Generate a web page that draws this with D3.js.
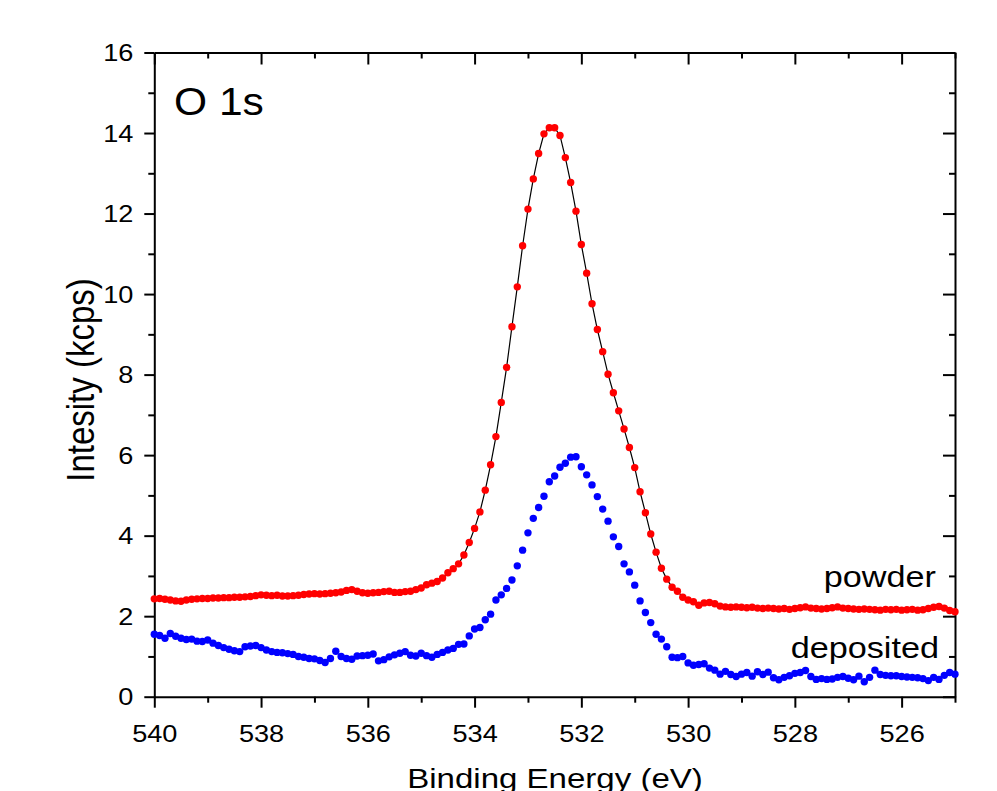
<!DOCTYPE html>
<html>
<head>
<meta charset="utf-8">
<script src="https://cdn.jsdelivr.net/npm/d3@7"></script>
<style>
  body { margin: 0; background: #fff; }
  svg text { font-family: "Liberation Sans", Arial, sans-serif; fill: #000; }
</style>
</head>
<body>
<svg id="chart" width="997" height="791"></svg>
<script>
// energia de enlace: de 540 a 525 eV cada 0.1
var energyStart = 540
var energyStep = 0.1

// powder (rojo), kcps
var powder = [
  2.43, 2.44, 2.42, 2.40, 2.38, 2.37, 2.40, 2.42, 2.43, 2.44,
  2.44, 2.45, 2.45, 2.46, 2.46, 2.47, 2.47, 2.48, 2.49, 2.51,
  2.53, 2.52, 2.51, 2.52, 2.50, 2.50, 2.51, 2.52, 2.54, 2.55,
  2.56, 2.55, 2.56, 2.57, 2.58, 2.60, 2.64, 2.66, 2.62, 2.58,
  2.57, 2.58, 2.59, 2.61, 2.62, 2.59, 2.59, 2.61, 2.62, 2.66,
  2.70, 2.78, 2.82, 2.86, 2.95, 3.08, 3.18, 3.30, 3.52, 3.83,
  4.18, 4.59, 5.13, 5.76, 6.46, 7.31, 8.18, 9.19, 10.18, 11.20,
  12.11, 12.86, 13.49, 13.98, 14.13, 14.13, 13.94, 13.39, 12.77, 12.06,
  11.23, 10.52, 9.76, 9.12, 8.57, 8.01, 7.55, 7.10, 6.65, 6.19,
  5.69, 5.09, 4.57, 4.04, 3.59, 3.19, 2.92, 2.72, 2.62, 2.47,
  2.40, 2.36, 2.27, 2.33, 2.34, 2.31, 2.25, 2.23, 2.22, 2.23,
  2.22, 2.21, 2.22, 2.20, 2.19, 2.20, 2.19, 2.18, 2.19, 2.17,
  2.19, 2.21, 2.23, 2.20, 2.19, 2.18, 2.19, 2.21, 2.23, 2.20,
  2.19, 2.18, 2.17, 2.18, 2.17, 2.16, 2.15, 2.17, 2.16, 2.17,
  2.15, 2.16, 2.17, 2.15, 2.16, 2.19, 2.22, 2.24, 2.20, 2.14,
  2.11
]

// deposited (azul), kcps
var deposited = [
  1.55, 1.52, 1.45, 1.57, 1.50, 1.45, 1.42, 1.43, 1.38, 1.37,
  1.41, 1.33, 1.27, 1.22, 1.18, 1.14, 1.12, 1.24, 1.26, 1.27,
  1.22, 1.16, 1.12, 1.10, 1.09, 1.07, 1.05, 1.00, 0.98, 0.95,
  0.94, 0.90, 0.85, 0.95, 1.13, 1.00, 0.95, 0.93, 1.01, 1.02,
  1.03, 1.06, 0.89, 0.92, 0.99, 1.04, 1.08, 1.12, 1.03, 1.01,
  1.08, 1.02, 0.98, 1.05, 1.10, 1.16, 1.20, 1.30, 1.31, 1.51,
  1.68, 1.72, 1.91, 2.05, 2.40, 2.53, 2.69, 2.90, 3.25, 3.64,
  4.07, 4.43, 4.70, 4.98, 5.34, 5.48, 5.70, 5.80, 5.95, 5.96,
  5.71, 5.51, 5.26, 4.97, 4.66, 4.36, 3.97, 3.73, 3.30, 3.10,
  2.77, 2.38, 2.09, 1.84, 1.55, 1.43, 1.24, 0.98, 0.97, 1.00,
  0.84, 0.78, 0.80, 0.82, 0.71, 0.66, 0.56, 0.63, 0.55, 0.50,
  0.56, 0.60, 0.51, 0.62, 0.55, 0.61, 0.47, 0.42, 0.48, 0.52,
  0.58, 0.60, 0.65, 0.50, 0.43, 0.45, 0.43, 0.44, 0.48, 0.50,
  0.46, 0.42, 0.51, 0.37, 0.48, 0.66, 0.55, 0.53, 0.52, 0.52,
  0.50, 0.49, 0.48, 0.47, 0.45, 0.40, 0.48, 0.43, 0.53, 0.60,
  0.56
]

var xMajor = [540, 538, 536, 534, 532, 530, 528, 526]
var xMinor = [539, 537, 535, 533, 531, 529, 527, 525]
var yMajor = [0, 2, 4, 6, 8, 10, 12, 14, 16]
var yMinor = [1, 3, 5, 7, 9, 11, 13, 15]

var energy = powder.map(function (d, i) { return +(energyStart - i * energyStep).toFixed(1) })

// ojo: "top" es global del navegador, por eso los nombres con plot
var plotLeft = 154.3, plotRight = 955, plotTop = 52.5, plotBottom = 696.7
var sx = 1.18 // el original sale algo estirado en horizontal

var svg = d3.select('#chart')

var x = d3.scaleLinear().domain([540, 525]).range([plotLeft, plotRight])
var y = d3.scaleLinear().domain([0, 16]).range([plotBottom, plotTop])

function estiloEje(g) {
  g.select('.domain').attr('stroke', '#000').attr('stroke-width', 2)
  g.selectAll('.tick line').attr('stroke', '#000').attr('stroke-width', 2)
}

// eje inferior (ticks hacia fuera)
var gx = svg.append('g').attr('transform', 'translate(0,' + plotBottom + ')')
gx.call(d3.axisBottom(x).tickValues(xMajor).tickSize(11).tickSizeOuter(0).tickFormat(d3.format('d')))
gx.selectAll('.tick text')
  .attr('font-size', 23)
  .attr('y', 45).attr('dy', 0)
  .attr('transform', 'scale(' + sx + ',1)')
estiloEje(gx)
var gx2 = svg.append('g').attr('transform', 'translate(0,' + plotBottom + ')')
gx2.call(d3.axisBottom(x).tickValues(xMinor).tickSize(6).tickFormat(''))
gx2.select('.domain').remove()
estiloEje(gx2)

// eje superior (ticks hacia dentro)
var gt = svg.append('g').attr('transform', 'translate(0,' + plotTop + ')')
gt.call(d3.axisBottom(x).tickValues(xMajor).tickSize(12).tickSizeOuter(0).tickFormat(''))
estiloEje(gt)
var gt2 = svg.append('g').attr('transform', 'translate(0,' + plotTop + ')')
gt2.call(d3.axisBottom(x).tickValues(xMinor).tickSize(6).tickFormat(''))
gt2.select('.domain').remove()
estiloEje(gt2)

// eje izquierdo
var gy = svg.append('g').attr('transform', 'translate(' + plotLeft + ',0)')
gy.call(d3.axisLeft(y).tickValues(yMajor).tickSize(10).tickSizeOuter(0))
gy.selectAll('.tick text')
  .attr('font-size', 23)
  .attr('x', -21 / sx).attr('dy', '0.36em')
  .attr('transform', 'scale(' + sx + ',1)')
estiloEje(gy)
var gy2 = svg.append('g').attr('transform', 'translate(' + plotLeft + ',0)')
gy2.call(d3.axisLeft(y).tickValues(yMinor).tickSize(6).tickFormat(''))
gy2.select('.domain').remove()
estiloEje(gy2)

// eje derecho (hacia dentro)
var gr = svg.append('g').attr('transform', 'translate(' + plotRight + ',0)')
gr.call(d3.axisRight(y).tickValues(yMajor).tickSize(-12).tickSizeOuter(0).tickFormat(''))
estiloEje(gr)
var gr2 = svg.append('g').attr('transform', 'translate(' + plotRight + ',0)')
gr2.call(d3.axisRight(y).tickValues(yMinor).tickSize(-6).tickFormat(''))
gr2.select('.domain').remove()
estiloEje(gr2)

// linea del ajuste por los puntos rojos
var linea = d3.line()
  .x(function (d, i) { return x(energy[i]) })
  .y(function (d) { return y(d) })

svg.append('path')
  .datum(powder)
  .attr('d', linea)
  .attr('fill', 'none')
  .attr('stroke', '#000')
  .attr('stroke-width', 1.2)

function puntos(datos, color) {
  svg.append('g').selectAll('circle')
    .data(datos)
    .enter()
    .append('circle')
    .attr('cx', function (d, i) { return x(energy[i]) })
    .attr('cy', function (d) { return y(d) })
    .attr('r', 3.7)
    .attr('fill', color)
}
puntos(powder, '#ff0000')
puntos(deposited, '#0000ff')

// textos
svg.append('text')
  .attr('transform', 'translate(174,115) scale(1.12,1)')
  .attr('font-size', 38)
  .text('O 1s')

svg.append('text')
  .attr('transform', 'translate(936,587) scale(' + sx + ',1)')
  .attr('text-anchor', 'end')
  .attr('font-size', 29)
  .text('powder')

svg.append('text')
  .attr('transform', 'translate(939,658) scale(' + sx + ',1)')
  .attr('text-anchor', 'end')
  .attr('font-size', 29)
  .text('deposited')

svg.append('text')
  .attr('transform', 'translate(555,788) scale(' + sx + ',1)')
  .attr('text-anchor', 'middle')
  .attr('font-size', 28)
  .text('Binding Energy (eV)')

svg.append('text')
  .attr('transform', 'translate(94,380) scale(1.2,1) rotate(-90)')
  .attr('text-anchor', 'middle')
  .attr('font-size', 33)
  .text('Intesity (kcps)')
</script>
</body>
</html>
